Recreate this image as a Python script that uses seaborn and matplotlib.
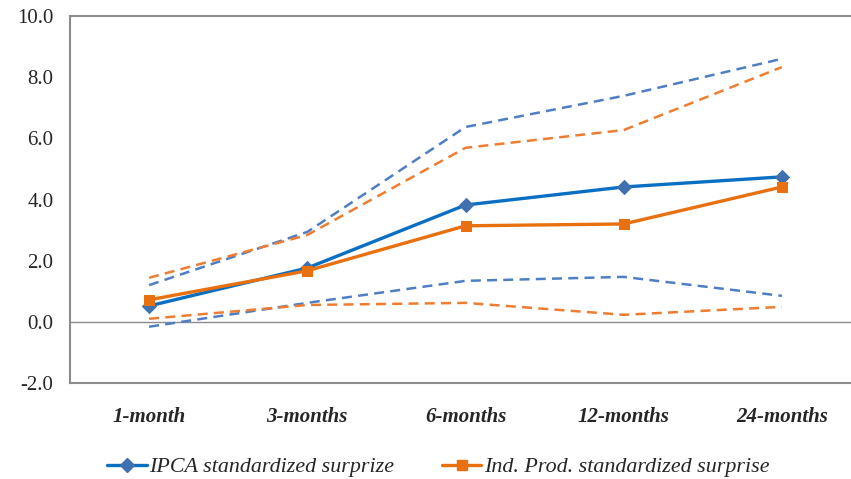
import matplotlib
matplotlib.use("Agg")
import matplotlib.pyplot as plt
import seaborn as sns
import pandas as pd
from matplotlib.lines import Line2D

categories = ["1-month", "3-months", "6-months", "12-months", "24-months"]
ipca = [0.52, 1.76, 3.82, 4.41, 4.74]
ipca_upper = [1.20, 2.94, 6.37, 7.39, 8.60]
ipca_lower = [-0.16, 0.62, 1.34, 1.47, 0.85]
indprod = [0.72, 1.67, 3.14, 3.20, 4.41]
indprod_upper = [1.44, 2.84, 5.69, 6.27, 8.33]
indprod_lower = [0.10, 0.55, 0.62, 0.23, 0.49]
yticks = [-2.0, 0.0, 2.0, 4.0, 6.0, 8.0, 10.0]

sns.set_style("white")
plt.rcParams['font.family'] = ['Liberation Serif', 'DejaVu Serif']

fig = plt.figure(figsize=(8.51, 4.79), dpi=100)
ax = fig.add_axes([70/851, 1-383/479, 791/851, (383-16)/479])

blue = "#0A6FC2"
blue_m = "#4170B0"
blue_d = "#4F7EC4"
orange = "#E8700F"
orange_d = "#EE7D31"

x = list(range(len(categories)))
df = pd.DataFrame({"x": x, "ipca": ipca, "ipca_u": ipca_upper, "ipca_l": ipca_lower,
                   "ind": indprod, "ind_u": indprod_upper, "ind_l": indprod_lower})

dash = (4, 2.5)
for col, c in [("ipca_u", blue_d), ("ipca_l", blue_d), ("ind_u", orange_d), ("ind_l", orange_d)]:
    sns.lineplot(data=df, x="x", y=col, ax=ax, color=c, linewidth=1.8,
                 dashes=False, sort=False, legend=False)
    ax.lines[-1].set_dashes(dash)

sns.lineplot(data=df, x="x", y="ipca", ax=ax, color=blue, linewidth=2.4, marker="D",
             markersize=7, markerfacecolor=blue_m, markeredgecolor=blue_m, sort=False, legend=False)
sns.lineplot(data=df, x="x", y="ind", ax=ax, color=orange, linewidth=2.4, marker="s",
             markersize=7, markerfacecolor=orange, markeredgecolor=orange, sort=False, legend=False)

ax.axhline(0, color="#8c8c8c", linewidth=1.0, zorder=0)
ax.set_xlim(-0.5, len(categories) - 0.5)
ax.set_ylim(-2, 10)
ax.set_yticks(yticks)
ax.set_yticklabels([f"{v:.1f}" for v in yticks], fontsize=15)
ax.set_xticks(x)
ax.set_xticklabels(categories, fontsize=15, style="italic", fontweight="bold")
ax.tick_params(axis="both", length=0)
ax.tick_params(axis="y", pad=12)
ax.tick_params(axis="x", pad=17)
ax.set_xlabel("")
ax.set_ylabel("")
for s in ax.spines.values():
    s.set_color("#8c8c8c")
    s.set_linewidth(1.5)

handles = [Line2D([0], [0], color=blue, linewidth=2.4, marker="D", markersize=7,
                  markerfacecolor=blue_m, markeredgecolor=blue_m),
           Line2D([0], [0], color=orange, linewidth=2.4, marker="s", markersize=7,
                  markerfacecolor=orange, markeredgecolor=orange)]
fig.legend(handles, ["IPCA standardized surprize", "Ind. Prod. standardized surprise"],
           loc="center left", bbox_to_anchor=(107/851, 1-467/479), ncol=2, frameon=False,
           prop={"style": "italic", "size": 15.8}, handlelength=1.8, handletextpad=0.1,
           columnspacing=2.2, borderpad=0, borderaxespad=0)

fig.savefig("out.png", dpi=100)
